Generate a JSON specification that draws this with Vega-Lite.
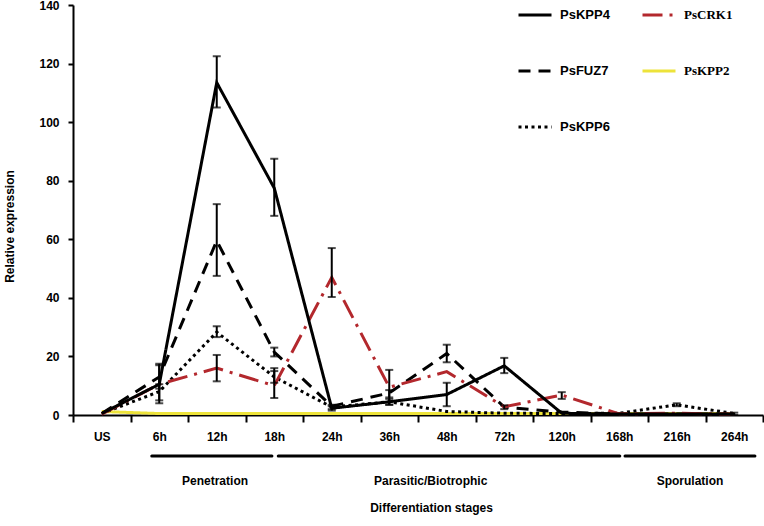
{
  "$schema": "https://vega.github.io/schema/vega-lite/v6.json",
  "width": 690,
  "height": 410,
  "autosize": {"type": "none"},
  "padding": {"left": 73, "top": 5, "right": 1, "bottom": 111},
  "config": {"view": {"stroke": null}, "font": "Liberation Sans"},
  "datasets": {
    "expr": [
      {"stage": "US", "gene": "PsKPP2", "value": 1.2},
      {"stage": "6h", "gene": "PsKPP2", "value": 0.5},
      {"stage": "12h", "gene": "PsKPP2", "value": 0.5},
      {"stage": "18h", "gene": "PsKPP2", "value": 0.5},
      {"stage": "24h", "gene": "PsKPP2", "value": 0.5},
      {"stage": "36h", "gene": "PsKPP2", "value": 0.5},
      {"stage": "48h", "gene": "PsKPP2", "value": 0.5},
      {"stage": "72h", "gene": "PsKPP2", "value": 0.5},
      {"stage": "120h", "gene": "PsKPP2", "value": 0.5},
      {"stage": "168h", "gene": "PsKPP2", "value": 0.5},
      {"stage": "216h", "gene": "PsKPP2", "value": 0.5},
      {"stage": "264h", "gene": "PsKPP2", "value": 0.5},

      {"stage": "US", "gene": "PsKPP6", "value": 0.5},
      {"stage": "6h", "gene": "PsKPP6", "value": 8, "lo": 5, "hi": 10.5},
      {"stage": "12h", "gene": "PsKPP6", "value": 28.3, "lo": 26.6, "hi": 30.3},
      {"stage": "18h", "gene": "PsKPP6", "value": 13, "lo": 11, "hi": 15},
      {"stage": "24h", "gene": "PsKPP6", "value": 2.7},
      {"stage": "36h", "gene": "PsKPP6", "value": 4.5},
      {"stage": "48h", "gene": "PsKPP6", "value": 1.2},
      {"stage": "72h", "gene": "PsKPP6", "value": 0.6},
      {"stage": "120h", "gene": "PsKPP6", "value": 0.5},
      {"stage": "168h", "gene": "PsKPP6", "value": 0.6},
      {"stage": "216h", "gene": "PsKPP6", "value": 3.5, "lo": 3, "hi": 4},
      {"stage": "264h", "gene": "PsKPP6", "value": 0.5},

      {"stage": "US", "gene": "PsFUZ7", "value": 0.5},
      {"stage": "6h", "gene": "PsFUZ7", "value": 13, "lo": 9, "hi": 17.5},
      {"stage": "12h", "gene": "PsFUZ7", "value": 59.5, "lo": 47.5, "hi": 72},
      {"stage": "18h", "gene": "PsFUZ7", "value": 21.5, "lo": 20, "hi": 23},
      {"stage": "24h", "gene": "PsFUZ7", "value": 3, "lo": 2, "hi": 3.5},
      {"stage": "36h", "gene": "PsFUZ7", "value": 7.5, "lo": 6, "hi": 8.5},
      {"stage": "48h", "gene": "PsFUZ7", "value": 21, "lo": 18, "hi": 24},
      {"stage": "72h", "gene": "PsFUZ7", "value": 2.7, "lo": 2, "hi": 3.3},
      {"stage": "120h", "gene": "PsFUZ7", "value": 1},
      {"stage": "168h", "gene": "PsFUZ7", "value": 0.3},
      {"stage": "216h", "gene": "PsFUZ7", "value": 0.3},
      {"stage": "264h", "gene": "PsFUZ7", "value": 0.3},

      {"stage": "US", "gene": "PsCRK1", "value": 0.3},
      {"stage": "6h", "gene": "PsCRK1", "value": 10.5},
      {"stage": "12h", "gene": "PsCRK1", "value": 16, "lo": 11.5, "hi": 20.5},
      {"stage": "18h", "gene": "PsCRK1", "value": 10, "lo": 5.8, "hi": 16},
      {"stage": "24h", "gene": "PsCRK1", "value": 47, "lo": 40.3, "hi": 57},
      {"stage": "36h", "gene": "PsCRK1", "value": 9.5, "lo": 3.5, "hi": 15.4},
      {"stage": "48h", "gene": "PsCRK1", "value": 14.8},
      {"stage": "72h", "gene": "PsCRK1", "value": 2.8},
      {"stage": "120h", "gene": "PsCRK1", "value": 6.8, "lo": 5.5, "hi": 7.8},
      {"stage": "168h", "gene": "PsCRK1", "value": 0.4},
      {"stage": "216h", "gene": "PsCRK1", "value": 0.6},
      {"stage": "264h", "gene": "PsCRK1", "value": 0.3},

      {"stage": "US", "gene": "PsKPP4", "value": 0.5},
      {"stage": "6h", "gene": "PsKPP4", "value": 10.5, "lo": 4, "hi": 17},
      {"stage": "12h", "gene": "PsKPP4", "value": 113.5, "lo": 105, "hi": 122.5},
      {"stage": "18h", "gene": "PsKPP4", "value": 77.5, "lo": 68, "hi": 87.5},
      {"stage": "24h", "gene": "PsKPP4", "value": 2.3, "lo": 1.5, "hi": 3},
      {"stage": "36h", "gene": "PsKPP4", "value": 4.5, "lo": 3.5, "hi": 5.5},
      {"stage": "48h", "gene": "PsKPP4", "value": 7, "lo": 3, "hi": 11},
      {"stage": "72h", "gene": "PsKPP4", "value": 16.8, "lo": 14.3, "hi": 19.5},
      {"stage": "120h", "gene": "PsKPP4", "value": 0.6},
      {"stage": "168h", "gene": "PsKPP4", "value": 0.3},
      {"stage": "216h", "gene": "PsKPP4", "value": 0.3},
      {"stage": "264h", "gene": "PsKPP4", "value": 0.3, "lo": 0, "hi": 0.8}
    ],
    "phases": [
      {"phase": "Penetration", "x0": 1.37, "x1": 3.46, "xm": 2.47, "yl": -14, "yt": -22.5},
      {"phase": "Parasitic/Biotrophic", "x0": 3.57, "x1": 9.51, "xm": 6.22, "yl": -14, "yt": -22.5},
      {"phase": "Sporulation", "x0": 9.6, "x1": 11.86, "xm": 10.73, "yl": -14, "yt": -22.5}
    ]
  },
  "resolve": {"scale": {"x": "independent"}},
  "layer": [
    {
      "layer": [
        {
          "data": {"name": "expr"},
          "mark": {"type": "line", "strokeWidth": 3},
          "encoding": {
            "x": {
              "field": "stage", "type": "nominal",
              "sort": ["US", "6h", "12h", "18h", "24h", "36h", "48h", "72h", "120h", "168h", "216h", "264h"],
              "scale": {"paddingInner": 0, "paddingOuter": 0},
              "axis": {
                "title": "Differentiation stages", "labelAngle": 0, "labelFontSize": 12, "labelFontWeight": "bold",
                "labelColor": "black", "labelPadding": 9, "tickBand": "extent", "tickSize": 7, "tickWidth": 2,
                "tickColor": "black", "domainColor": "black", "domainWidth": 2,
                "titleFontSize": 12, "titleFontWeight": "bold", "titleColor": "black", "titlePadding": 60, "titleX": 358
              }
            },
            "y": {
              "field": "value", "type": "quantitative",
              "scale": {"domain": [0, 140], "nice": false},
              "axis": {
                "title": "Relative expression", "values": [0, 20, 40, 60, 80, 100, 120, 140], "grid": false,
                "labelFontSize": 12, "labelFontWeight": "bold", "labelColor": "black", "labelPadding": 9,
                "tickSize": 5, "tickWidth": 2, "tickColor": "black", "domainColor": "black", "domainWidth": 2,
                "titleFontSize": 12, "titleFontWeight": "bold", "titleColor": "black", "titleX": -57, "titleY": 221
              }
            },
            "color": {
              "field": "gene", "type": "nominal",
              "scale": {"domain": ["PsKPP4", "PsFUZ7", "PsKPP6", "PsCRK1", "PsKPP2"], "range": ["#000000", "#000000", "#000000", "#b3282d", "#ede33a"]},
              "legend": {
                "title": null, "orient": "none", "legendX": 444, "legendY": -8, "columns": 2, "columnPadding": 26, "rowPadding": 31,
                "symbolType": "stroke", "symbolSize": 1089, "symbolStrokeWidth": 3, "labelFontSize": 13, "labelFontWeight": "bold",
                "labelColor": "black", "labelOffset": 7,
                "encode": {"labels": {"update": {"font": {"signal": "indexof(['PsCRK1','PsKPP2'], datum.value) >= 0 ? 'Liberation Serif' : 'Liberation Sans'"}}}}
              }
            },
            "strokeDash": {
              "field": "gene", "type": "nominal",
              "scale": {"domain": ["PsKPP4", "PsFUZ7", "PsKPP6", "PsCRK1", "PsKPP2"], "range": [[1, 0], [12, 8], [3, 3.5], [20, 7, 3, 7], [1, 0]]},
              "legend": {
                "title": null, "orient": "none", "legendX": 444, "legendY": -8, "columns": 2, "columnPadding": 26, "rowPadding": 31,
                "symbolType": "stroke", "symbolSize": 1089, "symbolStrokeWidth": 3, "labelFontSize": 13, "labelFontWeight": "bold",
                "labelColor": "black", "labelOffset": 7
              }
            }
          }
        },
        {
          "data": {"name": "expr"},
          "transform": [{"filter": "isValid(datum.lo)"}],
          "mark": {"type": "rule", "color": "black", "strokeWidth": 2},
          "encoding": {
            "x": {"field": "stage", "type": "nominal", "sort": ["US", "6h", "12h", "18h", "24h", "36h", "48h", "72h", "120h", "168h", "216h", "264h"]},
            "y": {"field": "lo", "type": "quantitative"},
            "y2": {"field": "hi"}
          }
        },
        {
          "data": {"name": "expr"},
          "transform": [{"filter": "isValid(datum.lo)"}],
          "mark": {"type": "tick", "orient": "horizontal", "color": "black", "size": 8, "thickness": 2},
          "encoding": {
            "x": {"field": "stage", "type": "nominal", "sort": ["US", "6h", "12h", "18h", "24h", "36h", "48h", "72h", "120h", "168h", "216h", "264h"]},
            "y": {"field": "lo", "type": "quantitative"}
          }
        },
        {
          "data": {"name": "expr"},
          "transform": [{"filter": "isValid(datum.hi)"}],
          "mark": {"type": "tick", "orient": "horizontal", "color": "black", "size": 8, "thickness": 2},
          "encoding": {
            "x": {"field": "stage", "type": "nominal", "sort": ["US", "6h", "12h", "18h", "24h", "36h", "48h", "72h", "120h", "168h", "216h", "264h"]},
            "y": {"field": "hi", "type": "quantitative"}
          }
        }
      ]
    },
    {
      "layer": [
        {
          "data": {"name": "phases"},
          "mark": {"type": "rule", "color": "black", "strokeWidth": 3, "strokeCap": "round"},
          "encoding": {
            "x": {"field": "x0", "type": "quantitative", "scale": {"domain": [0, 12], "nice": false, "zero": false}, "axis": null},
            "x2": {"field": "x1"},
            "y": {"field": "yl", "type": "quantitative"}
          }
        },
        {
          "data": {"name": "phases"},
          "mark": {"type": "text", "fontSize": 12, "fontWeight": "bold", "color": "black", "baseline": "middle"},
          "encoding": {
            "x": {"field": "xm", "type": "quantitative"},
            "y": {"field": "yt", "type": "quantitative"},
            "text": {"field": "phase"}
          }
        }
      ]
    }
  ]
}
